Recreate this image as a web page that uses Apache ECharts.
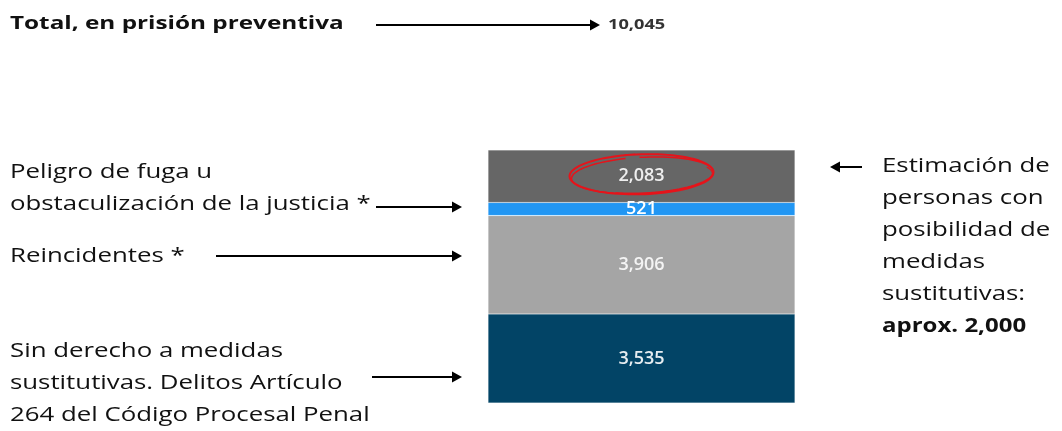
<!DOCTYPE html>
<html>
<head>
<meta charset="utf-8">
<script src="https://cdn.jsdelivr.net/npm/echarts@6/dist/echarts.min.js"></script>
<style>
html,body{margin:0;padding:0;background:#fff;}
#chart{width:1062px;height:431px;}
</style>
</head>
<body>
<div id="chart"></div>
<script>
// ---- data ----
const categories = ['Prisión preventiva'];
const seriesNames = ['Sin derecho a medidas sustitutivas', 'Reincidentes', 'Peligro de fuga u obstaculización', 'Estimación con posibilidad de medidas sustitutivas'];
const sinDerecho = [3535];
const reincidentes = [3906];
const peligroFuga = [521];
const posibilidad = [2083];
const total = 10045;
const colors = ['#024466', '#a5a5a5', '#2196f3', '#666666'];

const FONT = '"Open Sans", Lato, sans-serif';
const chart = echarts.init(document.getElementById('chart'), null, {renderer: 'canvas'});

function mkSeries(name, data, color, labelColor) {
  return {
    name: name, type: 'bar', stack: 'total', data: data,
    barWidth: '100%',
    itemStyle: {color: color, borderColor: 'rgba(255,255,255,0.25)', borderWidth: 0.6},
    label: {
      show: true, position: 'inside', color: labelColor,
      fontFamily: FONT, fontSize: 18, fontWeight: 600,
      formatter: p => p.value.toLocaleString('en-US')
    },
    emphasis: {disabled: true}
  };
}

const option = {
  animation: false,
  backgroundColor: '#fff',
  grid: {left: 488, width: 307, top: 150, bottom: 28},
  xAxis: {type: 'category', data: categories, show: false},
  yAxis: {type: 'value', min: 0, max: total, show: false},
  series: [
    mkSeries(seriesNames[0], sinDerecho, colors[0], '#e6edf1'),
    mkSeries(seriesNames[1], reincidentes, colors[1], '#f4f4f4'),
    mkSeries(seriesNames[2], peligroFuga, colors[2], '#ffffff'),
    mkSeries(seriesNames[3], posibilidad, colors[3], '#eeeeee')
  ]
};
chart.setOption(option);

// annotations
const SX = 1.29;
const txt = (x, y, t, opts, sx) => ({
  type: 'text', x: x, y: y, z: 100, scaleX: sx || SX,
  style: Object.assign({text: t, fill: '#111', font: '20px ' + FONT, textVerticalAlign: 'middle'}, opts || {})
});
function arrowRight(x1, x2, y) {
  return [
    {type: 'line', z: 100, shape: {x1: x1, y1: y, x2: x2 - 8, y2: y}, style: {stroke: '#000', lineWidth: 2}},
    {type: 'polygon', z: 100, shape: {points: [[x2 - 10, y - 5.5], [x2, y], [x2 - 10, y + 5.5]]}, style: {fill: '#000'}}
  ];
}
function arrowLeft(x1, x2, y) {
  return [
    {type: 'line', z: 100, shape: {x1: x1 + 8, y1: y, x2: x2, y2: y}, style: {stroke: '#000', lineWidth: 2}},
    {type: 'polygon', z: 100, shape: {points: [[x1 + 10, y - 5.5], [x1, y], [x1 + 10, y + 5.5]]}, style: {fill: '#000'}}
  ];
}

// hand-drawn red ellipse around the top segment label
const topMid = chart.convertToPixel({gridIndex: 0}, [0, sinDerecho[0] + reincidentes[0] + peligroFuga[0] + posibilidad[0] / 2]);
function loop(cx, cy, rx, ry, tilt, start, sweep) {
  const pts = [];
  for (let i = 0; i <= 90; i++) {
    const a = start + sweep * i / 90;
    const x = rx * Math.cos(a), y = ry * Math.sin(a);
    pts.push([cx + x * Math.cos(tilt) - y * Math.sin(tilt), cy + x * Math.sin(tilt) + y * Math.cos(tilt)]);
  }
  return pts;
}

const elements = [
  txt(10, 24, 'Total, en prisión preventiva', {font: 'bold 18px ' + FONT}, 1.35),
  ...arrowRight(376, 600, 25),
  txt(608, 25, total.toLocaleString('en-US'), {font: 'bold 14px ' + FONT, fill: '#333'}, 1.3),

  txt(10, 172, 'Peligro de fuga u'),
  txt(10, 204, 'obstaculización de la justicia *'),
  ...arrowRight(376, 462, 207),
  txt(10, 256, 'Reincidentes *'),
  ...arrowRight(216, 462, 256),
  txt(10, 351, 'Sin derecho a medidas'),
  txt(10, 383, 'sustitutivas. Delitos Artículo'),
  txt(10, 415, '264 del Código Procesal Penal'),
  ...arrowRight(372, 462, 377),

  ...arrowLeft(830, 862, 167),
  txt(882, 166, 'Estimación de'),
  txt(882, 198, 'personas con'),
  txt(882, 230, 'posibilidad de'),
  txt(882, 262, 'medidas'),
  txt(882, 294, 'sustitutivas:'),
  txt(882, 326, 'aprox. 2,000', {font: 'bold 20px ' + FONT}, 1.2),

  {type: 'polyline', z: 100, shape: {points: loop(topMid[0], topMid[1] - 2, 72, 20, -0.03, -2.0, 2 * Math.PI + 0.35)}, style: {fill: 'none', stroke: '#e5141b', lineWidth: 2}},
  {type: 'polyline', z: 100, shape: {points: loop(topMid[0] + 1, topMid[1] - 1, 71, 18, -0.05, -1.6, 2 * Math.PI - 0.2)}, style: {fill: 'none', stroke: '#e5141b', lineWidth: 1.5}},
  {type: 'polyline', z: 100, shape: {points: loop(topMid[0] + 2, topMid[1], 69, 17, -0.04, -0.4, 2.4)}, style: {fill: 'none', stroke: '#e5141b', lineWidth: 1.2}}
];
chart.setOption({graphic: {elements: elements}});
</script>
</body>
</html>
